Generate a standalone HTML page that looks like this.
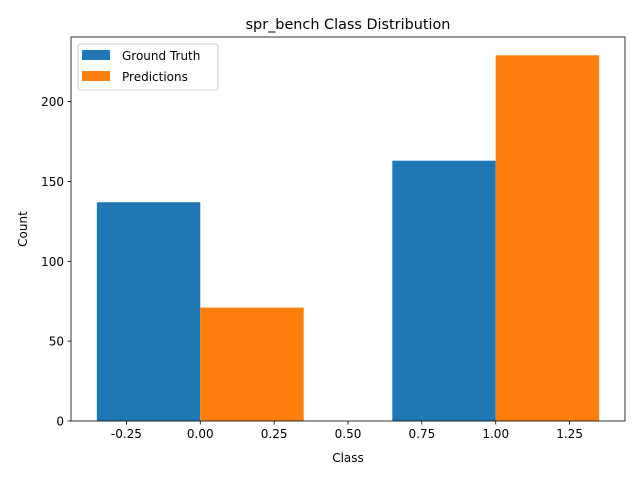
<!DOCTYPE html>
<html><head><meta charset="utf-8"><style>
body{margin:0;background:#fff;}
svg{display:block;font-family:"DejaVu Sans","Liberation Sans",sans-serif;}
</style></head><body>
<svg id="chart" width="640" height="480"></svg>
<script>
const categories = [0, 1];
const groundTruth = [137, 163];
const predictions = [71, 229];
const xTicks = [-0.25, 0.00, 0.25, 0.50, 0.75, 1.00, 1.25];
const yTicks = [0, 50, 100, 150, 200];

const NS = "http://www.w3.org/2000/svg";
const svg = document.getElementById('chart');
const L = 71, R = 625, T = 37, B = 421;
const xMin = -0.4375, xMax = 1.4375, yMax = 240.45;
const sx = v => L + (v - xMin) / (xMax - xMin) * (R - L);
const sy = v => B - v / yMax * (B - T);
function mk(tag, attrs, text) {
  const e = document.createElementNS(NS, tag);
  for (const k in attrs) e.setAttribute(k, attrs[k]);
  if (text !== undefined) e.textContent = text;
  svg.appendChild(e);
  return e;
}
const w = 0.35;
categories.forEach((c, i) => {
  const b1 = mk('rect', {x: sx(c - w), y: sy(groundTruth[i]), width: sx(c) - sx(c - w), height: B - sy(groundTruth[i]), fill: '#1f77b4'});
  
  
  const b2 = mk('rect', {x: sx(c), y: sy(predictions[i]), width: sx(c + w) - sx(c), height: B - sy(predictions[i]), fill: '#ff7f0e'});
  
  
});
const frame = mk('rect', {x: L, y: T, width: R - L, height: B - T, fill: 'none', stroke: '#000', 'stroke-width': 0.8});


xTicks.forEach(t => {
  mk('line', {x1: sx(t), x2: sx(t), y1: B, y2: B + 3.5, stroke: '#000', 'stroke-width': 0.8});
  const lb = mk('text', {x: sx(t), y: B + 17, 'text-anchor': 'middle', 'font-size': 12}, t.toFixed(2));
  
  
});
yTicks.forEach(t => {
  mk('line', {x1: L - 3.5, x2: L, y1: sy(t), y2: sy(t), stroke: '#000', 'stroke-width': 0.8});
  const lb = mk('text', {x: L - 7, y: sy(t) + 4.5, 'text-anchor': 'end', 'font-size': 12}, t);
  
  
});
const title = mk('text', {x: (L + R) / 2, y: 29, 'text-anchor': 'middle', 'font-size': 14.4}, 'spr_bench Class Distribution');


const xt = mk('text', {x: (L + R) / 2, y: 462, 'text-anchor': 'middle', 'font-size': 12}, 'Class');


const yt = mk('text', {x: 27, y: (T + B) / 2, 'text-anchor': 'middle', 'font-size': 12, transform: 'rotate(-90 27 ' + (T + B) / 2 + ')'}, 'Count');


const lg = mk('rect', {x: 78, y: 44, width: 140, height: 46, rx: 3, fill: '#fff', 'fill-opacity': 0.8, stroke: '#ccc'});


[['Ground Truth', '#1f77b4', 50], ['Predictions', '#ff7f0e', 71]].forEach(([n, c, y]) => {
  mk('rect', {x: 82, y: y, width: 28, height: 10, fill: c});
  const t = mk('text', {x: 122, y: y + 10, 'font-size': 12}, n);
  
  
});
</script>
</body></html>
